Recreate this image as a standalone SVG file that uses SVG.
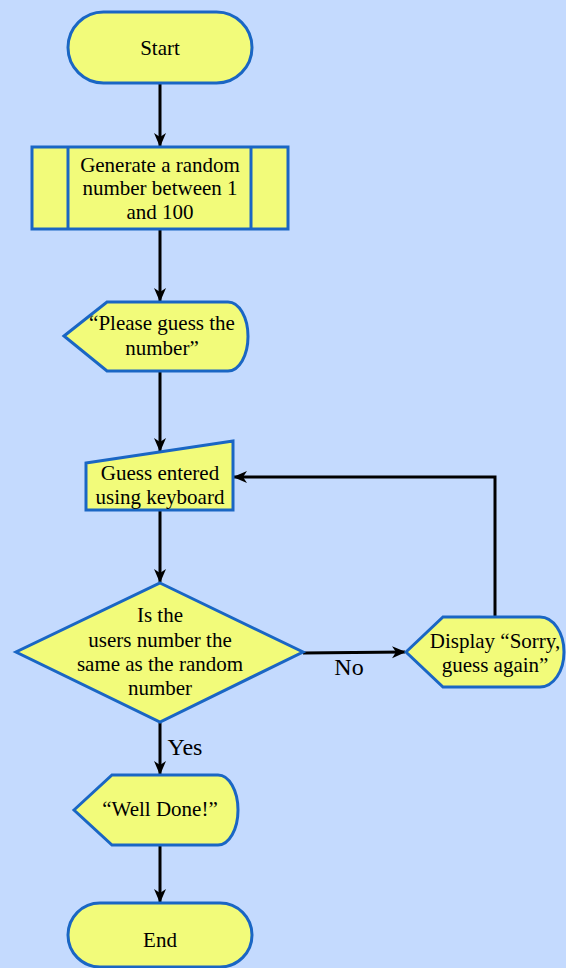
<svg xmlns="http://www.w3.org/2000/svg" width="566" height="968" viewBox="0 0 566 968">
<defs>
<style>
.shape{fill:#F2FB7A;stroke:#1A66C4;stroke-width:3;stroke-linejoin:miter}
.t{font-family:'Liberation Serif','DejaVu Serif',serif;font-size:21px;fill:#000;text-anchor:middle}
.lbl{font-family:'Liberation Serif','DejaVu Serif',serif;font-size:24px;fill:#000;text-anchor:middle}
.c{fill:none;stroke:#000;stroke-width:3}
</style>
<marker id="ah" viewBox="0 0 14 14" refX="13" refY="7" markerWidth="14" markerHeight="14" markerUnits="userSpaceOnUse" orient="auto">
<path d="M0,1 L14,7 L0,13 L4,7 Z" fill="#000"/>
</marker>
</defs>
<rect x="0" y="0" width="566" height="968" fill="#C4DAFE"/>
<g id="connectors">
<line class="c" x1="160" y1="84" x2="160" y2="146" marker-end="url(#ah)"/>
<line class="c" x1="160" y1="230" x2="160" y2="301" marker-end="url(#ah)"/>
<line class="c" x1="160" y1="372" x2="160" y2="451" marker-end="url(#ah)"/>
<line class="c" x1="160" y1="511" x2="160" y2="582" marker-end="url(#ah)"/>
<line class="c" x1="303" y1="653" x2="405" y2="652" marker-end="url(#ah)"/>
<polyline class="c" points="495,617 495,477 234,477" marker-end="url(#ah)"/>
<line class="c" x1="160" y1="723" x2="160" y2="774" marker-end="url(#ah)"/>
<line class="c" x1="160" y1="846" x2="160" y2="902" marker-end="url(#ah)"/>
<text class="lbl" x="349" y="675" font-family="Liberation Serif, DejaVu Serif, serif">No</text>
<text class="lbl" x="185" y="755" font-family="Liberation Serif, DejaVu Serif, serif">Yes</text>
</g>
<g id="start">
<rect class="shape" x="68" y="12" width="184" height="71" rx="35.5" ry="35.5"/>
<text class="t" x="160" y="55">Start</text>
</g>
<g id="generate">
<rect class="shape" x="32" y="147" width="256" height="82"/>
<line class="shape" x1="68" y1="147" x2="68" y2="229"/>
<line class="shape" x1="251" y1="147" x2="251" y2="229"/>
<text class="t" x="160" y="172">Generate a random</text>
<text class="t" x="160" y="195">number between 1</text>
<text class="t" x="160" y="219">and 100</text>
</g>
<g id="please">
<path class="shape" d="M64,336 L107,302 L228,302 A20,34.5 0 0 1 228,371 L107,371 Z"/>
<text class="t" x="162" y="330">“Please guess the</text>
<text class="t" x="162" y="355">number”</text>
</g>
<g id="input">
<path class="shape" d="M86,463 L233,441 L233,510 L86,510 Z"/>
<text class="t" x="160" y="480">Guess entered</text>
<text class="t" x="160" y="504">using keyboard</text>
</g>
<g id="decision">
<path class="shape" d="M160,583 L303,652 L160,722 L16,652 Z"/>
<text class="t" x="160" y="622">Is the</text>
<text class="t" x="160" y="647">users number the</text>
<text class="t" x="160" y="671">same as the random</text>
<text class="t" x="160" y="695">number</text>
</g>
<g id="sorry">
<path class="shape" d="M406,652 L443,617 L540,617 A24,35 0 0 1 540,687 L443,687 Z"/>
<text class="t" x="495" y="648">Display “Sorry,</text>
<text class="t" x="495" y="672">guess again”</text>
</g>
<g id="welldone">
<path class="shape" d="M74,810 L112,775 L218,775 A20,35 0 0 1 218,845 L112,845 Z"/>
<text class="t" x="160" y="816">“Well Done!”</text>
</g>
<g id="end">
<rect class="shape" x="68" y="903" width="184" height="64" rx="32" ry="32"/>
<text class="t" x="160" y="947">End</text>
</g>
</svg>
